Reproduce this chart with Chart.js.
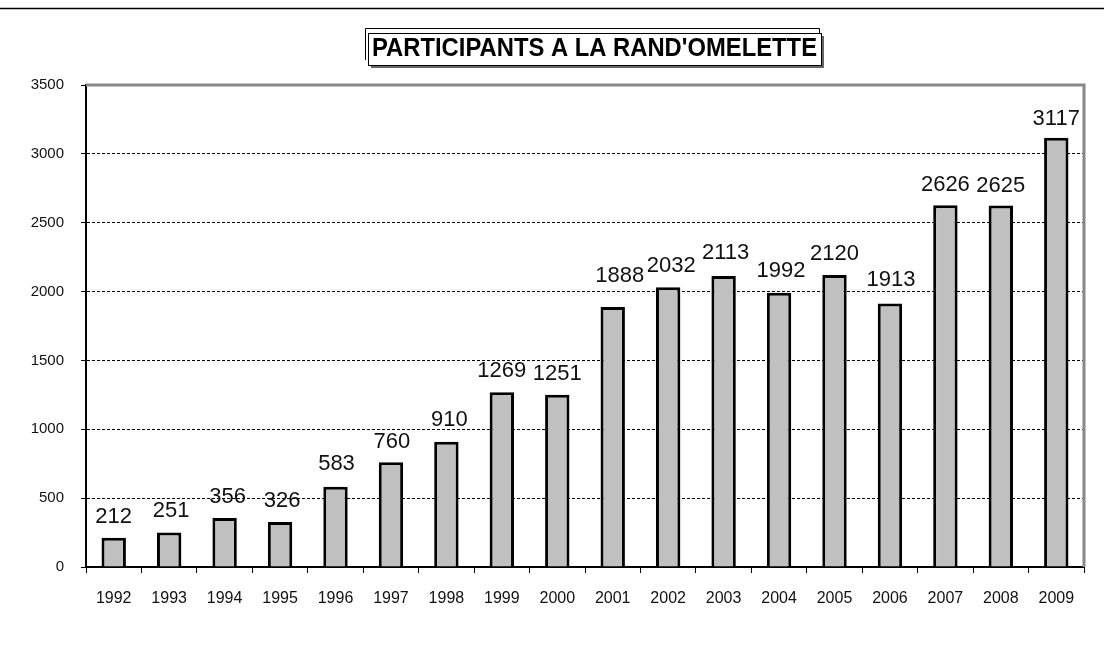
<!DOCTYPE html>
<html>
<head>
<meta charset="utf-8">
<script src="https://cdn.jsdelivr.net/npm/chart.js@4/dist/chart.umd.min.js"></script>
<style>
  html, body { margin: 0; padding: 0; background: #fff; }
  #wrap { width: 1104px; height: 648px; position: relative; }
</style>
</head>
<body>
<div id="wrap"><canvas id="chart"></canvas></div>
<script>
// données
const years = ['1992','1993','1994','1995','1996','1997','1998','1999','2000',
               '2001','2002','2003','2004','2005','2006','2007','2008','2009'];
const participants = [212, 251, 356, 326, 583, 760, 910, 1269, 1251,
                      1888, 2032, 2113, 1992, 2120, 1913, 2626, 2625, 3117];
const yTicks = [0, 500, 1000, 1500, 2000, 2500, 3000, 3500];
const chartTitle = "PARTICIPANTS A LA RAND'OMELETTE";

// décalage manuel des étiquettes (px), comme dans l'original
const labelNudge = [[0,0],[2,0],[3,0],[2,0],[1,-2],[1,1],[3,-1],[0,0],[0,0],
                    [7,-10],[3,0],[2,-2],[2,-1],[0,0],[1,-3],[0,1],[0,1],[0,2]];

// cadre gris, ligne du haut, titre encadré, étiquettes
const decorPlugin = {
  id: 'decor',
  beforeDraw(chart) {
    const ctx = chart.ctx;
    ctx.save();
    ctx.fillStyle = '#fff';
    ctx.fillRect(0, 0, chart.width, chart.height);
    // ligne en haut de la page
    ctx.strokeStyle = '#000';
    ctx.lineWidth = 1.5;
    ctx.beginPath();
    ctx.moveTo(0, 8.5);
    ctx.lineTo(chart.width, 8.5);
    ctx.stroke();
    ctx.restore();
  },
  afterDatasetsDraw(chart) {
    const ctx = chart.ctx;
    const a = chart.chartArea;
    ctx.save();
    // bord gris haut et droite
    ctx.strokeStyle = '#888';
    ctx.lineWidth = 3;
    ctx.beginPath();
    ctx.moveTo(a.left, a.top);
    ctx.lineTo(a.right, a.top);
    ctx.lineTo(a.right, a.bottom);
    ctx.stroke();

    // titre : cadre extérieur fin + boîte avec ombre
    ctx.strokeStyle = '#000';
    ctx.lineWidth = 1;
    ctx.beginPath();
    ctx.moveTo(365.5, 60);
    ctx.lineTo(365.5, 28.5);
    ctx.lineTo(819.5, 28.5);
    ctx.lineTo(819.5, 40);
    ctx.stroke();
    const bx = 368, by = 33, bw = 453, bh = 32;
    ctx.fillStyle = '#666';
    ctx.fillRect(bx + 3, by + 3, bw, bh);
    ctx.fillStyle = '#fff';
    ctx.fillRect(bx, by, bw, bh);
    ctx.strokeRect(bx + 0.5, by + 0.5, bw, bh);
    ctx.fillStyle = '#000';
    ctx.font = 'bold 24px "Liberation Sans", Arial, sans-serif';
    ctx.textAlign = 'center';
    ctx.textBaseline = 'alphabetic';
    const tw = ctx.measureText(chartTitle).width;
    const sx = 445 / tw;
    ctx.save();
    ctx.translate(bx + bw / 2, 56);
    ctx.scale(sx, 1.05);
    ctx.fillText(chartTitle, 0, 0);
    ctx.restore();

    // valeurs au-dessus des barres
    const meta = chart.getDatasetMeta(0);
    ctx.font = '22px "Liberation Sans", Arial, sans-serif';
    ctx.fillStyle = '#111';
    ctx.textAlign = 'center';
    ctx.textBaseline = 'alphabetic';
    meta.data.forEach((bar, i) => {
      const n = labelNudge[i];
      ctx.fillText(String(participants[i]), bar.x + n[0], bar.y - 15 + n[1]);
    });
    ctx.restore();
  }
};

new Chart(document.getElementById('chart'), {
  type: 'bar',
  data: {
    labels: years,
    datasets: [{
      data: participants,
      backgroundColor: '#c0c0c0',
      borderColor: '#000',
      borderWidth: 3,
      borderSkipped: 'bottom',
      categoryPercentage: 1,
      barPercentage: 0.44
    }]
  },
  plugins: [decorPlugin],
  options: {
    responsive: true,
    maintainAspectRatio: false,
    animation: false,
    layout: { padding: { top: 85, right: 20, left: 0, bottom: 0 } },
    plugins: {
      legend: { display: false },
      tooltip: { enabled: false },
      title: { display: false }
    },
    scales: {
      x: {
        grid: {
          display: true,
          offset: true,
          drawOnChartArea: false,
          color: '#000',
          tickLength: 6,
          tickWidth: 1
        },
        border: { color: '#000', width: 2 },
        ticks: {
          color: '#111',
          font: { family: '"Liberation Sans", Arial, sans-serif', size: 16 },
          padding: 16,
          maxRotation: 0
        },
        afterFit(scale) { scale.height = 81; }
      },
      y: {
        min: 0,
        max: 3500,
        afterBuildTicks(scale) { scale.ticks = yTicks.map(v => ({ value: v })); },
        grid: {
          color: ctx => (ctx.tick && ctx.tick.value === 3500) ? 'rgba(0,0,0,0)' : '#000',
          lineWidth: 1,
          tickLength: 5,
          tickColor: '#000',
          tickBorderDash: []
        },
        border: { color: '#000', width: 2, dash: [3, 2] },
        ticks: {
          color: '#111',
          font: { family: '"Liberation Sans", Arial, sans-serif', size: 15 },
          padding: 17,
          callback: v => String(v)
        },
        afterFit(scale) { scale.width = 86; }
      }
    }
  }
});
</script>
</body>
</html>
